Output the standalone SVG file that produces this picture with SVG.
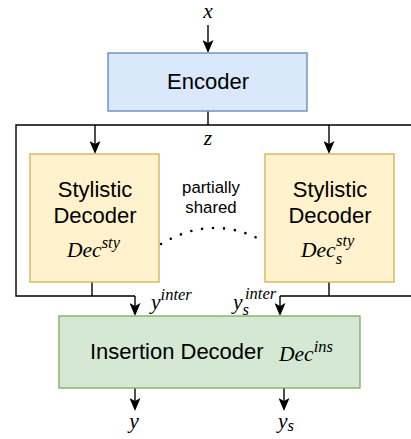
<svg xmlns="http://www.w3.org/2000/svg" width="411" height="439" viewBox="0 0 411 439">
  <style>
    .lbl { font-family: "Liberation Sans", Arial, sans-serif; font-size: 22px; fill: #000; }
    .small { font-family: "Liberation Sans", Arial, sans-serif; font-size: 16.8px; fill: #000; }
    .math { font-family: "Liberation Serif", "Times New Roman", serif; font-style: italic; font-size: 21.5px; fill: #000; }
    .sup { font-size: 16.5px; }
    .wire { fill: none; stroke: #000; stroke-width: 1.4; }
    .arrow { fill: none; stroke: #000; stroke-width: 1.4; marker-end: url(#head); }
    .enc { fill: #dae8fc; stroke: #6c8ebf; stroke-width: 1.4; }
    .sty { fill: #fff2cc; stroke: #d6b656; stroke-width: 1.4; }
    .ins { fill: #d5e8d4; stroke: #82b366; stroke-width: 1.4; }
  </style>
  <defs>
    <marker id="head" markerUnits="userSpaceOnUse" viewBox="0 0 13 11" markerWidth="13" markerHeight="11" refX="11" refY="5.5" orient="auto">
      <path d="M0,0 L13,5.5 L0,11 L3,5.5 Z" fill="#000"/>
    </marker>
  </defs>

  <!-- connectors -->
  <g id="connectors">
    <path class="arrow" d="M208,25 V51"/>
    <path class="wire" d="M208,111 V125"/>
    <!-- shared bus around both stylistic decoders -->
    <path class="wire" d="M135,296 H16 V125 H420 V296 H280"/>
    <path class="arrow" d="M95,125 V152"/>
    <path class="arrow" d="M329,125 V152"/>
    <path class="wire" d="M92,282 V296"/>
    <path class="wire" d="M329,282 V296"/>
    <path class="arrow" d="M135,296 V314"/>
    <path class="arrow" d="M280,296 V314"/>
    <path class="arrow" d="M135,388 V409"/>
    <path class="arrow" d="M284,388 V409"/>
    <!-- partial sharing between the two decoders -->
    <path d="M161,244 Q212,214 261,240" fill="none" stroke="#000" stroke-width="2.6" stroke-linecap="round" stroke-dasharray="0 11"/>
  </g>

  <text class="math" x="208" y="18" text-anchor="middle">x</text>
  <text class="math" x="208" y="145" text-anchor="middle">z</text>

  <g id="encoder">
    <rect class="enc" x="108" y="53" width="199" height="58"/>
    <text class="lbl" x="208" y="89" text-anchor="middle">Encoder</text>
  </g>

  <g id="stylistic-decoder">
    <rect class="sty" x="30" y="154" width="129" height="128"/>
    <text class="lbl" x="95" y="197" text-anchor="middle">Stylistic</text>
    <text class="lbl" x="95" y="223" text-anchor="middle">Decoder</text>
    <text class="math" x="67" y="257">Dec<tspan class="sup" dy="-9">sty</tspan></text>
  </g>

  <g id="shared-label">
    <text class="small" x="211" y="193" text-anchor="middle">partially</text>
    <text class="small" x="211" y="213" text-anchor="middle">shared</text>
  </g>

  <g id="stylistic-decoder-s">
    <rect class="sty" x="265" y="154" width="129" height="128"/>
    <text class="lbl" x="330" y="197" text-anchor="middle">Stylistic</text>
    <text class="lbl" x="330" y="223" text-anchor="middle">Decoder</text>
    <text class="math" x="301" y="257">Dec<tspan class="sup" dy="7">s</tspan></text>
    <text class="math sup" x="336" y="246">sty</text>
  </g>

  <text class="math" x="151" y="309">y<tspan class="sup" dy="-9">inter</tspan></text>
  <text class="math" x="233" y="309">y<tspan class="sup" dy="6">s</tspan></text>
  <text class="math sup" x="245" y="299">inter</text>

  <g id="insertion-decoder">
    <rect class="ins" x="59" y="316" width="301" height="72"/>
    <text class="lbl" x="90" y="359">Insertion Decoder</text>
    <text class="math" x="279" y="361">Dec<tspan class="sup" dy="-9">ins</tspan></text>
  </g>

  <text class="math" x="134" y="428" text-anchor="middle">y</text>
  <text class="math" x="278" y="428">y<tspan class="sup" dy="3">s</tspan></text>
</svg>
